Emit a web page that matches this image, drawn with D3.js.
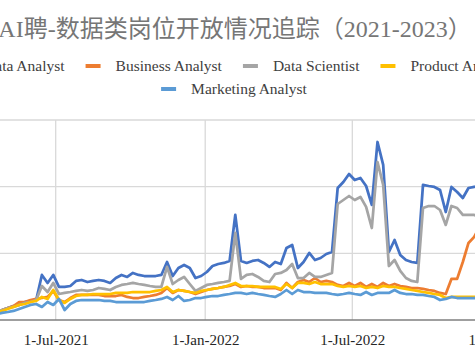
<!DOCTYPE html>
<html>
<head>
<meta charset="utf-8">
<script src="https://cdn.jsdelivr.net/npm/d3@7"></script>
<style>
  html, body { margin: 0; padding: 0; background: #fff; overflow: hidden; }
  svg { display: block; }
</style>
</head>
<body>
<svg id="chart" width="475" height="356"></svg>
<script>
// ---------- DATA ----------
const titleText = "AI聘-数据类岗位开放情况追踪（2021-2023）";
const seriesNames = ["Data Analyst", "Business Analyst", "Data Scientist", "Product Analyst", "Marketing Analyst"];
const seriesColors = ["#4472C4", "#ED7D31", "#A5A5A5", "#FFC000", "#5B9BD5"];
const firstWeek = "2021-04-05";   // weekly observations
const xTickDates = ["2021-07-01", "2022-01-01", "2022-07-01", "2023-01-01"];
const yTicks = [0, 500, 1000, 1500];

const dataAnalyst = [53,60,68,75,90,105,113,135,143,150,338,278,338,248,248,255,293,300,285,293,
  300,293,278,315,338,323,353,338,330,330,330,338,435,330,390,413,390,315,330,360,
  405,420,428,443,788,443,428,443,450,428,398,435,420,540,563,390,435,503,450,465,
  495,510,990,1035,1095,1050,1065,1005,863,1335,1163,510,600,488,450,435,428,1013,1005,998,
  975,810,998,960,915,990,998,1013,1005,1020];
const businessAnalyst = [45,53,60,75,90,105,135,135,150,158,165,173,218,150,135,165,188,188,188,188,
  188,180,180,180,188,173,165,165,173,180,188,203,240,203,225,218,210,195,210,225,
  233,240,248,255,270,248,255,248,248,240,240,240,225,278,240,285,300,285,315,285,
  293,285,263,255,278,255,278,248,270,248,278,255,270,255,248,240,240,233,225,218,
  203,195,308,308,435,578,623,705,765,825];
const dataScientist = [53,60,68,75,90,98,113,128,135,150,255,210,278,195,203,210,218,225,218,225,
  240,233,225,248,263,270,278,270,263,255,248,248,398,270,300,323,270,218,240,263,
  270,278,285,293,653,308,338,345,323,293,285,345,353,375,420,315,315,353,323,323,
  338,353,870,900,930,900,923,848,690,1185,1013,405,450,368,315,293,285,840,855,855,
  825,713,855,840,788,788,788,773,780,773];
const productAnalyst = [45,53,60,68,83,98,113,120,135,143,173,158,225,150,128,158,180,188,188,195,
  195,195,195,203,203,203,210,210,210,210,218,225,248,210,225,218,210,203,218,225,
  233,240,248,263,278,255,255,255,248,248,248,248,233,270,240,278,278,270,285,270,
  270,270,255,248,255,248,255,240,248,240,255,248,248,240,233,225,218,210,203,195,
  188,165,173,173,173,173,173,173,173,173];
const marketingAnalyst = [38,45,45,53,60,68,83,98,113,120,98,135,113,158,75,120,143,150,150,150,
  150,143,143,135,135,135,135,135,135,143,150,158,173,150,180,143,150,165,165,173,
  180,180,188,195,203,203,195,203,195,188,180,173,195,225,195,225,210,210,203,203,
  203,195,188,195,203,195,188,210,188,203,203,203,225,203,195,195,188,188,180,173,
  150,158,173,165,165,165,165,165,165,165];

const seriesValues = [dataAnalyst, businessAnalyst, dataScientist, productAnalyst, marketingAnalyst];

// ---------- LAYOUT ----------
const W = 475, H = 356;
const plotTop = 120, plotBottom = 320;
const svg = d3.select("#chart");

const parse = d3.timeParse("%Y-%m-%d");
const start = parse(firstWeek);
const dates = d3.range(dataAnalyst.length).map(i => d3.timeDay.offset(start, 7 * i));

const x = d3.scaleTime()
  .domain([parse("2021-07-01"), parse("2022-07-01")])
  .range([55.7, 352.3]);
const y = d3.scaleLinear().domain([0, 1500]).range([plotBottom, plotTop]);

// Title
svg.append("text")
  .attr("x", 235).attr("y", 37)
  .attr("text-anchor", "middle")
  .attr("font-family", "'Liberation Serif', 'Noto Sans CJK SC', serif")
  .attr("font-size", 24)
  .attr("fill", "#767676")
  .text(titleText);

// Legend
const legendFont = 15.5;
const legend = svg.append("g").attr("font-family", "'Liberation Serif', serif")
  .attr("font-size", legendFont).attr("fill", "#404040");
function layoutRow(indices, cy, cx) {
  const items = indices.map(i => {
    const g = legend.append("g");
    g.append("line").attr("x1", 0).attr("x2", 15).attr("y1", 0).attr("y2", 0)
      .attr("stroke", seriesColors[i]).attr("stroke-width", 4);
    const t = g.append("text").attr("x", 30).attr("y", 5).text(seriesNames[i]);
    return { g, w: 30 + t.node().getComputedTextLength() };
  });
  const gap = 21;
  const total = d3.sum(items, d => d.w) + gap * (items.length - 1);
  let cur = cx - total / 2;
  items.forEach(it => { it.g.attr("transform", `translate(${cur},${cy})`); cur += it.w + gap; });
}
layoutRow([0, 1, 2, 3], 66, 232);
layoutRow([4], 89, 234);

// Grid
const grid = svg.append("g");
grid.selectAll("line.h").data(yTicks.filter(d => d > 0)).join("line")
  .attr("x1", -60).attr("x2", W + 60)
  .attr("y1", d => y(d)).attr("y2", d => y(d))
  .attr("stroke", "#d9d9d9").attr("stroke-width", 1.3);
grid.selectAll("line.v").data(xTickDates.map(parse)).join("line")
  .attr("x1", d => x(d)).attr("x2", d => x(d))
  .attr("y1", plotTop).attr("y2", plotBottom)
  .attr("stroke", "#d9d9d9").attr("stroke-width", 1.3);

// Lines
const line = d3.line().x((d, i) => x(dates[i])).y(d => y(d));
svg.append("g").selectAll("path").data(seriesValues).join("path")
  .attr("d", d => line(d))
  .attr("fill", "none")
  .attr("stroke", (d, i) => seriesColors[i])
  .attr("stroke-width", 2.75)
  .attr("stroke-linejoin", "round")
  .attr("stroke-linecap", "round");

// X axis
const xAxis = d3.axisBottom(x)
  .tickValues(xTickDates.map(parse))
  .tickFormat(d3.timeFormat("%-d-%b-%Y"))
  .tickSize(0).tickPadding(14);
const ax = svg.append("g").attr("transform", `translate(0,${plotBottom})`).call(xAxis);
ax.select(".domain").remove();
ax.append("line").attr("x1", -60).attr("x2", W + 60).attr("y1", 0).attr("y2", 0)
  .attr("stroke", "#7f7f7f").attr("stroke-width", 1.5);
ax.selectAll("text")
  .attr("font-family", "'Liberation Serif', serif")
  .attr("font-size", 15)
  .attr("fill", "#262626");
</script>
</body>
</html>
